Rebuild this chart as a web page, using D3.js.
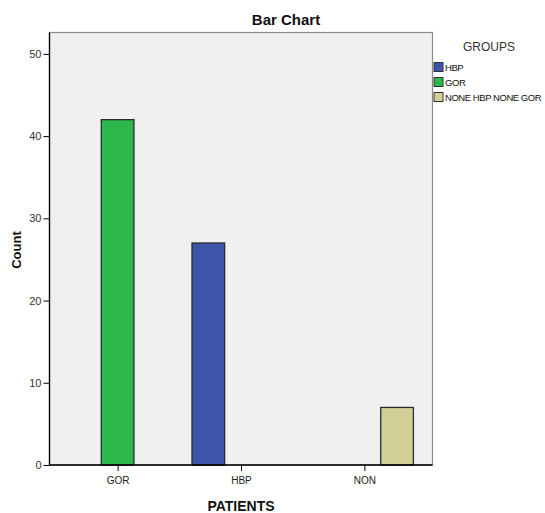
<!DOCTYPE html>
<html>
<head>
<meta charset="utf-8">
<script src="https://d3js.org/d3.v7.min.js"></script>
<style>
  body { margin: 0; background: #fff; }
  text { font-family: "Liberation Sans", Arial, sans-serif; }
</style>
</head>
<body>
<div id="chart"></div>
<script>
// categories on the x axis and the clustered groups
var patients = ['GOR', 'HBP', 'NON'];
var groups = ['HBP', 'GOR', 'NONE HBP NONE GOR'];
var groupColors = ['#3c55a8', '#2db84b', '#d3cf99'];
// counts per group, in the order of patients
var hbpCounts = [0, 27, 0];
var gorCounts = [42, 0, 0];
var noneCounts = [0, 0, 7];
var yTicks = [0, 10, 20, 30, 40, 50];

var width = 545, height = 513;
// plot frame (note: "top" is taken by window.top)
var plotL = 49.5, plotR = 432.5, plotT = 32.5, plotB = 465;

var svg = d3.select('#chart').append('svg')
    .attr('width', width).attr('height', height);

var x = d3.scalePoint().domain(patients).range([plotL, plotR]).padding(0.552);
var slot = d3.scaleBand().domain(groups).range([-49, 49]);
var y = d3.scaleLinear().domain([0, 52.6]).range([plotB, plotT]);
var color = d3.scaleOrdinal().domain(groups).range(groupColors);

// plot background + frame
svg.append('rect')
    .attr('x', plotL).attr('y', plotT)
    .attr('width', plotR - plotL).attr('height', plotB - plotT)
    .attr('fill', '#f0f0f0')
    .attr('stroke', '#8c8c8c').attr('stroke-width', 1.2);

var rows = [];
[hbpCounts, gorCounts, noneCounts].forEach(function(vals, gi) {
  vals.forEach(function(v, pi) {
    if (v > 0) rows.push({patient: patients[pi], group: groups[gi], value: v});
  });
});

svg.append('g').selectAll('rect')
  .data(rows).enter().append('rect')
    .attr('x', function(d) { return x(d.patient) + slot(d.group); })
    .attr('y', function(d) { return y(d.value); })
    .attr('width', slot.bandwidth())
    .attr('height', function(d) { return plotB - y(d.value); })
    .attr('fill', function(d) { return color(d.group); })
    .attr('stroke', '#2a2a2a').attr('stroke-width', 1.3);

// axes
var yAxis = svg.append('g')
    .attr('transform', 'translate(' + plotL + ',0)')
    .call(d3.axisLeft(y).tickValues(yTicks).tickSize(6).tickPadding(2));
yAxis.select('.domain').attr('d', 'M0,' + plotT + 'V' + plotB).attr('stroke', '#000').attr('stroke-width', 1.3);
yAxis.selectAll('text').attr('font-size', '11px').attr('fill', '#333')
    .attr('font-family', '"Liberation Sans", Arial, sans-serif');

var xAxis = svg.append('g')
    .attr('transform', 'translate(0,' + plotB + ')')
    .call(d3.axisBottom(x).tickSize(6).tickPadding(6));
xAxis.select('.domain').attr('d', 'M' + plotL + ',0H' + plotR).attr('stroke', '#000').attr('stroke-width', 1.3);
xAxis.selectAll('text').attr('font-size', '10px').attr('fill', '#222')
    .attr('font-family', '"Liberation Sans", Arial, sans-serif');

// titles
svg.append('text').text('Bar Chart')
    .attr('x', 286).attr('y', 25).attr('text-anchor', 'middle')
    .attr('font-size', '15px').attr('font-weight', 'bold').attr('fill', '#111');
svg.append('text').text('PATIENTS')
    .attr('x', 241).attr('y', 511).attr('text-anchor', 'middle')
    .attr('font-size', '14px').attr('font-weight', 'bold').attr('fill', '#111');
svg.append('text').text('Count')
    .attr('transform', 'translate(21,250) rotate(-90)').attr('text-anchor', 'middle')
    .attr('font-size', '13px').attr('font-weight', 'bold').attr('fill', '#111');

// legend
svg.append('text').text('GROUPS')
    .attr('x', 489).attr('y', 51).attr('text-anchor', 'middle')
    .attr('font-size', '12px').attr('fill', '#333');
var leg = svg.append('g').selectAll('g')
  .data(groups).enter().append('g')
    .attr('transform', function(d, i) { return 'translate(434,' + (62.5 + i * 15) + ')'; });
leg.append('rect')
    .attr('width', 9).attr('height', 9)
    .attr('fill', function(d) { return color(d); })
    .attr('stroke', '#333').attr('stroke-width', 1);
leg.append('text').text(function(d) { return d; })
    .attr('x', 11).attr('y', 8.5)
    .attr('font-size', '9.5px').attr('letter-spacing', '-0.45px').attr('fill', '#111');
</script>
</body>
</html>
